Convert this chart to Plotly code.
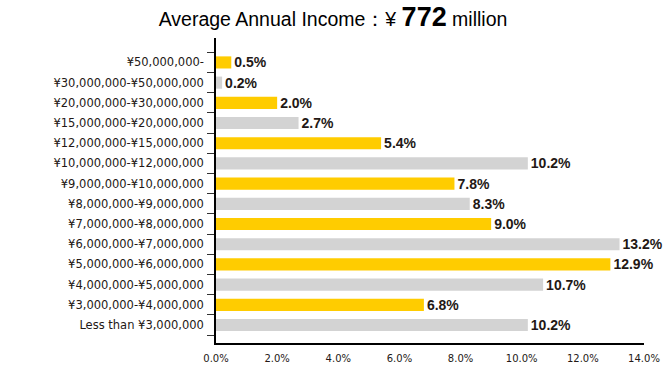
import plotly.graph_objects as go

categories = [
    "Less than ¥3,000,000",
    "¥3,000,000-¥4,000,000",
    "¥4,000,000-¥5,000,000",
    "¥5,000,000-¥6,000,000",
    "¥6,000,000-¥7,000,000",
    "¥7,000,000-¥8,000,000",
    "¥8,000,000-¥9,000,000",
    "¥9,000,000-¥10,000,000",
    "¥10,000,000-¥12,000,000",
    "¥12,000,000-¥15,000,000",
    "¥15,000,000-¥20,000,000",
    "¥20,000,000-¥30,000,000",
    "¥30,000,000-¥50,000,000",
    "¥50,000,000-",
]
values = [10.2, 6.8, 10.7, 12.9, 13.2, 9.0, 8.3, 7.8, 10.2, 5.4, 2.7, 2.0, 0.2, 0.5]
x_ticks = [0, 2, 4, 6, 8, 10, 12, 14]
x_tick_labels = ["0.0%", "2.0%", "4.0%", "6.0%", "8.0%", "10.0%", "12.0%", "14.0%"]

YELLOW = "#FFCC00"
GREY = "#D3D3D3"
INK = "#231815"
colors = [GREY if i % 2 == 0 else YELLOW for i in range(len(values))]

fig = go.Figure(
    go.Bar(
        x=values,
        y=categories,
        orientation="h",
        marker=dict(color=colors, line=dict(width=0)),
        width=0.6,
        text=[f"{v:.1f}%" for v in values],
        textposition="outside",
        constraintext="none",
        textfont=dict(family="Liberation Sans, Arial, sans-serif", size=14, color=INK, weight="bold"),
        cliponaxis=False,
        hoverinfo="skip",
    )
)

fig.update_layout(
    width=666,
    height=391,
    margin=dict(l=216, r=22, t=38, b=48, autoexpand=False),
    paper_bgcolor="white",
    plot_bgcolor="white",
    showlegend=False,
    font=dict(family="Liberation Sans, Arial, sans-serif", color=INK),
    title=dict(
        text="Average Annual Income：¥ <b><span style='font-size:27px'>772</span></b> million",
        x=0.5,
        xref="container",
        xanchor="center",
        y=1 - 19 / 391,
        yref="container",
        yanchor="middle",
        automargin=False,
        font=dict(size=19.5, color="#000000", family="Liberation Sans, Arial, sans-serif"),
    ),
)

fig.update_xaxes(
    range=[0, 14],
    tickvals=x_ticks,
    ticktext=x_tick_labels,
    showgrid=False,
    zeroline=False,
    showline=True,
    linecolor="#000000",
    linewidth=1.5,
    ticks="",
    ticklabelstandoff=5,
    automargin=False,
    tickfont=dict(size=10, color=INK, family="DejaVu Sans, sans-serif"),
)
fig.update_yaxes(
    type="category",
    categoryorder="array",
    categoryarray=categories,
    range=[-0.89, 14.21],
    showgrid=False,
    zeroline=False,
    showline=True,
    linecolor="#000000",
    linewidth=1.5,
    ticks="outside",
    tickson="boundaries",
    ticklen=7,
    tickcolor="#333333",
    tickwidth=1,
    ticklabelstandoff=8,
    automargin=False,
    tickfont=dict(size=11.5, color=INK, family="DejaVu Sans, sans-serif"),
)

fig.write_html(
    "out.html",
    config={"displayModeBar": False},
    post_script="document.body.style.margin='0';document.body.style.padding='0';",
)
